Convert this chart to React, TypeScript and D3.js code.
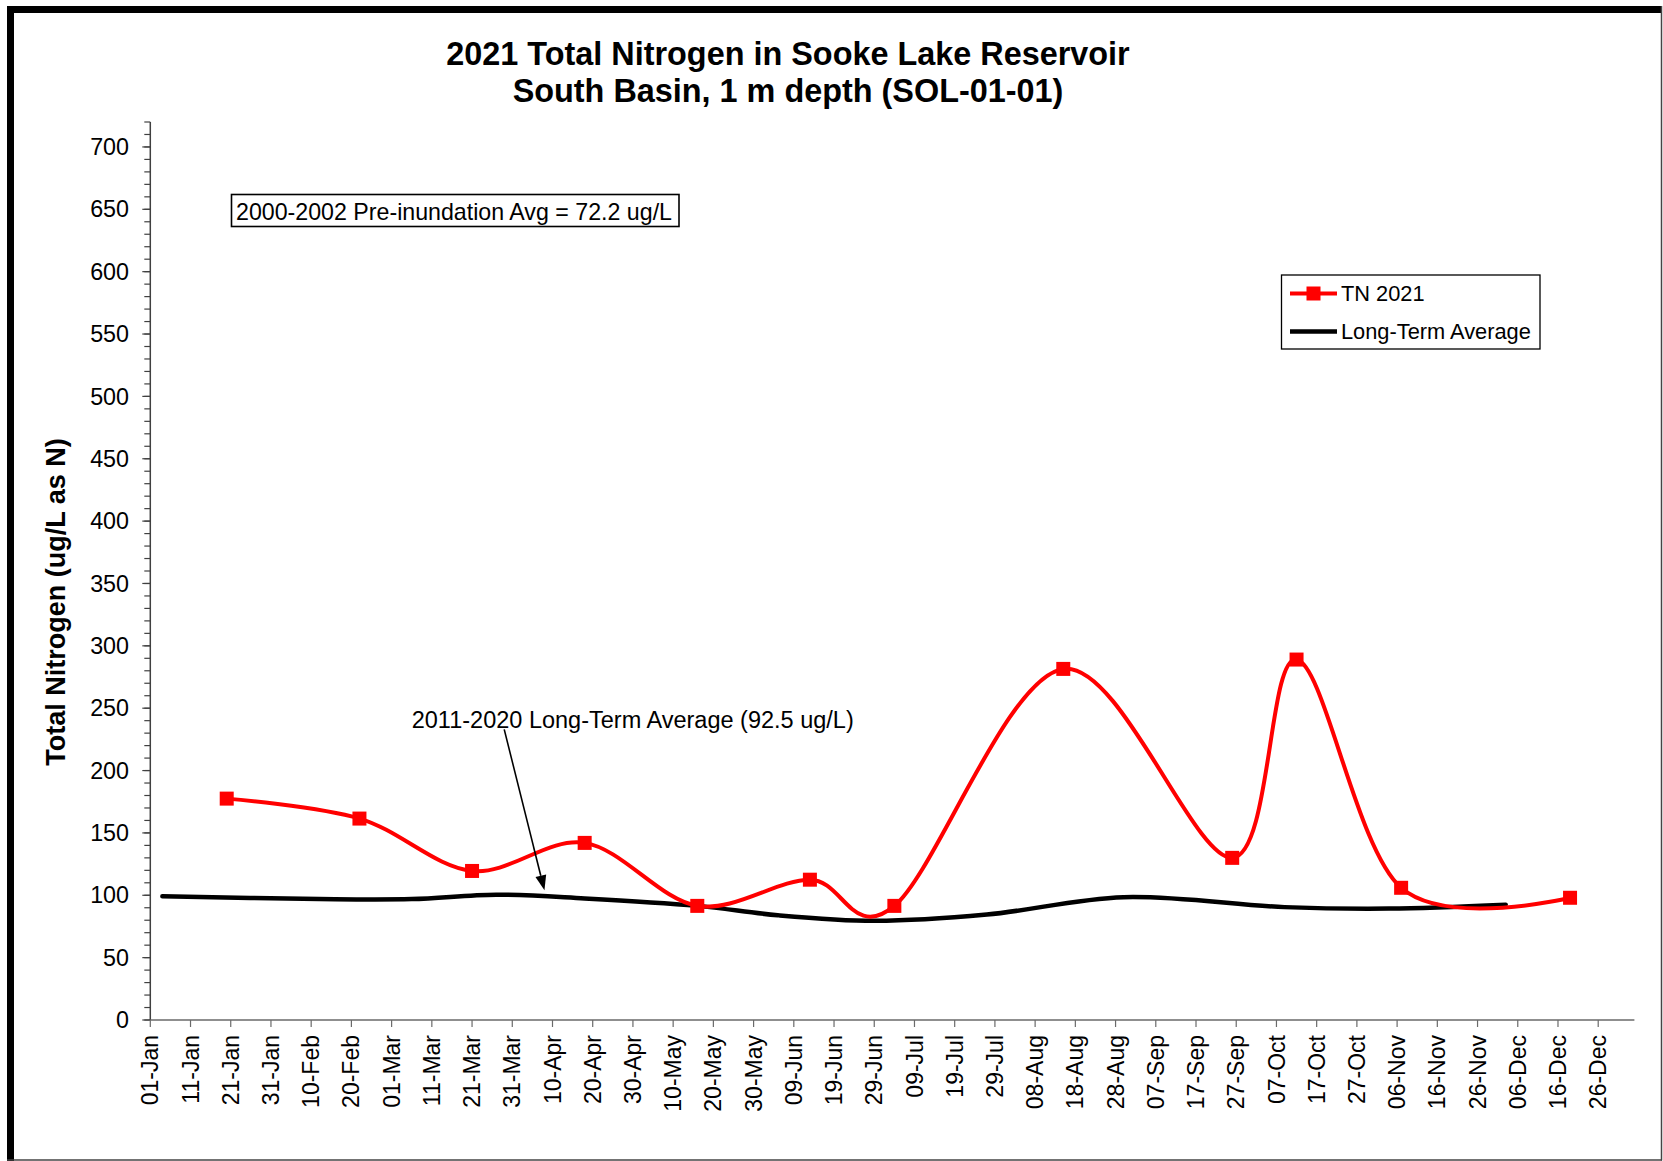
import React from 'react';
import * as d3 from 'd3';

// ---- data ----
const AXIS_YEAR = '2020';
const tnDates = ['01-20', '02-22', '03-21', '04-18', '05-16', '06-13', '07-04', '08-15', '09-26', '10-12', '11-07', '12-19'];
const tnValues = [177.5, 161.5, 119.5, 142, 91.5, 112.5, 91.5, 281.5, 130, 289, 106, 98];
const ltaDates = ['01-04', '02-12', '03-06', '03-27', '04-18', '05-16', '06-05', '06-29', '07-27', '08-30', '10-09', '11-04', '12-03'];
const ltaValues = [99.2, 97, 97, 100.5, 97.5, 91.5, 84, 79.5, 84.5, 98.5, 90.5, 89.3, 92.5];
const yMajorTicks = d3.range(0, 701, 50);
const yMinorTicks = d3.range(0, 721, 10);
const titleLines = ['2021 Total Nitrogen in Sooke Lake Reservoir', 'South Basin, 1 m depth (SOL-01-01)'];
const yLabel = 'Total Nitrogen (ug/L as N)';
const legendLabels = ['TN 2021', 'Long-Term Average'];
const boxText = '2000-2002 Pre-inundation Avg = 72.2 ug/L';
const annoText = '2011-2020 Long-Term Average (92.5 ug/L)';
const annoTextAt = { date: '03-06', value: 234 };
const annoArrowFrom = { date: '03-29', value: 233 };
const annoArrowTo = { date: '04-08', value: 104 };

const parse = (md: string) => new Date(`${AXIS_YEAR}-${md}T00:00:00Z`);

const FONT = "'Liberation Sans', Arial, sans-serif";

export default function App() {
  const W = 1663;
  const H = 1161;
  const x0 = 150.3;
  const x1 = 1634.4;
  const yTop = 122;
  const yBot = 1020;

  const start = parse('01-01');
  const end = d3.utcDay.offset(start, 369);
  const x = d3.scaleUtc().domain([start, end]).range([x0, x1]);
  const y = d3.scaleLinear().domain([0, 720]).range([yBot, yTop]);

  const xTicks = d3.utcDay.range(start, d3.utcDay.offset(start, 361), 10);
  const fmt = d3.utcFormat('%d-%b');

  const tn = tnDates.map((d, i) => ({ d: parse(d), v: tnValues[i] }));
  const lta = ltaDates.map((d, i) => ({ d: parse(d), v: ltaValues[i] }));

  const redLine = d3
    .line<{ d: Date; v: number }>()
    .x((p) => x(p.d))
    .y((p) => y(p.v))
    .curve(d3.curveCatmullRom.alpha(0));
  const blackLine = d3
    .line<{ d: Date; v: number }>()
    .x((p) => x(p.d))
    .y((p) => y(p.v))
    .curve(d3.curveCatmullRom.alpha(0.5));

  const ms = 14;

  const ax = x(parse(annoArrowFrom.date));
  const ay = y(annoArrowFrom.value);
  const bx = x(parse(annoArrowTo.date));
  const by = y(annoArrowTo.value);
  const ang = Math.atan2(by - ay, bx - ax);
  const headL = 15;
  const headW = 5.5;
  const hbx = bx - headL * Math.cos(ang);
  const hby = by - headL * Math.sin(ang);
  const head = `M${bx},${by}L${hbx + headW * Math.sin(ang)},${hby - headW * Math.cos(ang)}L${hbx - headW * Math.sin(ang)},${hby + headW * Math.cos(ang)}Z`;

  return (
    <svg
      width={W}
      height={H}
      style={{ position: 'absolute', left: 0, top: 0, background: '#fff' }}
      fontFamily={FONT}
    >
      <rect x={0} y={0} width={W} height={H} fill="#fff" />
      {/* frame */}
      <rect x={7} y={6} width={1655} height={7} fill="#000" />
      <rect x={7} y={6} width={7} height={1155} fill="#000" />
      <line x1={1661.5} y1={6} x2={1661.5} y2={1160.5} stroke="#444" strokeWidth={1.5} />
      <line x1={7} y1={1160} x2={1662} y2={1160} stroke="#444" strokeWidth={1.5} />

      {/* title */}
      <text x={788} y={65} textAnchor="middle" fontWeight="bold" fontSize={32.4} fill="#000">
        {titleLines[0]}
      </text>
      <text x={788} y={102} textAnchor="middle" fontWeight="bold" fontSize={32.4} fill="#000">
        {titleLines[1]}
      </text>

      {/* y axis */}
      <line x1={x0} y1={yTop} x2={x0} y2={yBot} stroke="#404040" strokeWidth={1.5} />
      {yMinorTicks.map((t) => (
        <line key={'m' + t} x1={x0 - 6} x2={x0} y1={y(t)} y2={y(t)} stroke="#404040" strokeWidth={1.2} />
      ))}
      {yMajorTicks.map((t) => (
        <g key={'M' + t}>
          <line x1={x0 - 8} x2={x0} y1={y(t)} y2={y(t)} stroke="#404040" strokeWidth={1.2} />
          <text x={129} y={y(t)} dy="0.35em" textAnchor="end" fontSize={23.3} fill="#000">
            {t}
          </text>
        </g>
      ))}
      <text
        transform={`translate(65,602) rotate(-90)`}
        textAnchor="middle"
        fontWeight="bold"
        fontSize={27}
        fill="#000"
      >
        {yLabel}
      </text>

      {/* x axis */}
      <line x1={x0} y1={yBot} x2={x1} y2={yBot} stroke="#6a6a6a" strokeWidth={1.5} />
      {xTicks.map((t) => (
        <g key={+t}>
          <line x1={x(t)} x2={x(t)} y1={yBot} y2={yBot + 7} stroke="#6a6a6a" strokeWidth={1.2} />
          <text
            transform={`translate(${x(t)},${yBot + 15}) rotate(-90)`}
            dy="0.35em"
            textAnchor="end"
            fontSize={23}
            fill="#000"
          >
            {fmt(t)}
          </text>
        </g>
      ))}

      {/* long-term average */}
      <path d={blackLine(lta) || ''} fill="none" stroke="#000" strokeWidth={4.5} strokeLinecap="round" />

      {/* TN 2021 */}
      <path d={redLine(tn) || ''} fill="none" stroke="#ff0000" strokeWidth={4} strokeLinejoin="round" />
      {tn.map((p, i) => (
        <rect key={i} x={x(p.d) - ms / 2} y={y(p.v) - ms / 2} width={ms} height={ms} fill="#ff0000" />
      ))}

      {/* pre-inundation box */}
      <rect x={231.5} y={194.5} width={447.5} height={32} fill="#fff" stroke="#000" strokeWidth={1.6} />
      <text x={236} y={220} fontSize={23.2} fill="#000">
        {boxText}
      </text>

      {/* annotation */}
      <text x={x(parse(annoTextAt.date))} y={y(annoTextAt.value)} fontSize={23.5} fill="#000">
        {annoText}
      </text>
      <line x1={ax} y1={ay} x2={hbx} y2={hby} stroke="#000" strokeWidth={1.6} />
      <path d={head} fill="#000" />

      {/* legend */}
      <rect x={1281.5} y={275} width={258.5} height={74} fill="#fff" stroke="#000" strokeWidth={1.3} />
      <line x1={1290} x2={1337} y1={293.5} y2={293.5} stroke="#ff0000" strokeWidth={4} />
      <rect x={1313.5 - 7} y={293.5 - 7} width={14} height={14} fill="#ff0000" />
      <text x={1341} y={301} fontSize={21.8} fill="#000">
        {legendLabels[0]}
      </text>
      <line x1={1290} x2={1337} y1={331.5} y2={331.5} stroke="#000" strokeWidth={4.5} />
      <text x={1341} y={339} fontSize={21.8} fill="#000">
        {legendLabels[1]}
      </text>
    </svg>
  );
}
